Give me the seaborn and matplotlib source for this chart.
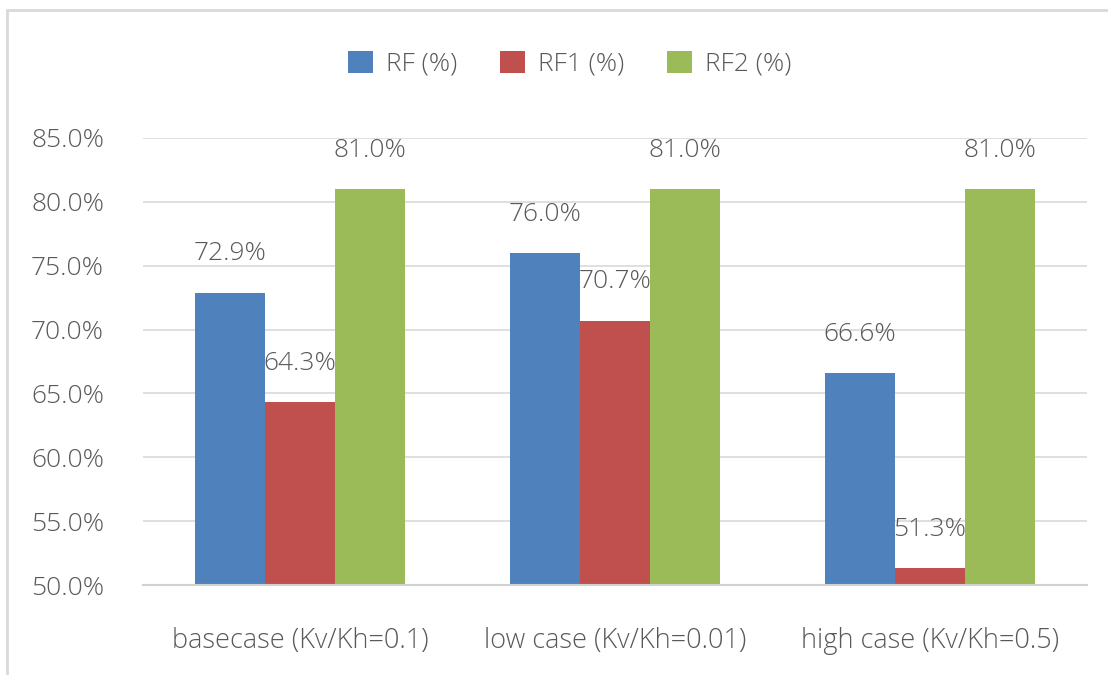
import matplotlib
matplotlib.use("Agg")
import matplotlib.pyplot as plt
import matplotlib.patches as mpatches
import seaborn as sns
import pandas as pd

# Recovery factor per case and scenario
cases = ["basecase (Kv/Kh=0.1)", "low case (Kv/Kh=0.01)", "high case (Kv/Kh=0.5)"]
series = ["RF (%)", "RF1 (%)", "RF2 (%)"]
rf = [72.9, 76.0, 66.6]
rf1 = [64.3, 70.7, 51.3]
rf2 = [81.0, 81.0, 81.0]
yticks = [50, 55, 60, 65, 70, 75, 80, 85]

colors = ["#4F81BD", "#C0504D", "#9BBB59"]
text_color = "#595959"
fs = 19
fw = 300

rows = []
for name, vals in zip(series, [rf, rf1, rf2]):
    for case, v in zip(cases, vals):
        rows.append({"case": case, "series": name, "value": v / 100.0})
df = pd.DataFrame(rows)

sns.set_theme(style="white")
plt.rcParams["font.family"] = ["Open Sans", "DejaVu Sans"]
plt.rcParams["font.weight"] = fw

fig = plt.figure(figsize=(11.08, 6.75), dpi=100)
ax = fig.add_axes([0.129, 0.1333, 0.852, 0.6623])

sns.barplot(data=df, x="case", y="value", hue="series", order=cases,
            hue_order=series, palette=colors, width=0.667, saturation=1,
            edgecolor="none", linewidth=0, ax=ax, legend=True)

ax.set_ylim(0.50, 0.85)
ax.set_xlim(-0.5, 2.5)
ax.set_yticks([t / 100.0 for t in yticks])
ax.set_yticklabels([f"{t:.1f}%" for t in yticks], fontsize=fs, color=text_color,
                   fontweight=fw)
ax.set_xticks(range(len(cases)))
ax.set_xticklabels(cases, fontsize=19.5, color=text_color, fontweight=fw)
ax.tick_params(axis="x", length=0, pad=30)
ax.tick_params(axis="y", length=0, pad=28)
ax.set_xlabel("")
ax.set_ylabel("")

ax.grid(axis="y", color="#D9D9D9", linewidth=1.2)
ax.set_axisbelow(True)
for side in ["left", "right", "top"]:
    ax.spines[side].set_visible(False)
ax.spines["bottom"].set_color("#D0D0D0")
ax.spines["bottom"].set_linewidth(1.5)

for cont, vals in zip(ax.containers, [rf, rf1, rf2]):
    ax.bar_label(cont, labels=[f"{v:.1f}%" for v in vals], padding=19,
                 fontsize=fs, color=text_color, fontweight=fw)

handles, labels = ax.get_legend_handles_labels()
leg = ax.legend(handles, labels, loc="center", bbox_to_anchor=(0.452, 1.166),
                ncol=3, frameon=False, fontsize=fs, labelcolor=text_color,
                handlelength=0.95, handleheight=0.95, handletextpad=0.5,
                columnspacing=1.6)
for t in leg.get_texts():
    t.set_fontweight(fw)

# Outer chart border
fig.patches.append(mpatches.Rectangle((7 / 1108, -0.02), 1.02, 1 - 10 / 675 + 0.02,
                                      transform=fig.transFigure, fill=False,
                                      edgecolor="#D9D9D9", linewidth=2))

fig.savefig("out.png", dpi=100)
